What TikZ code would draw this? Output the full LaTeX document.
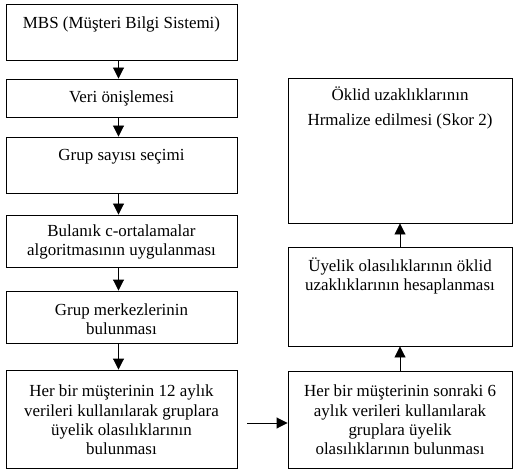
\documentclass[tikz,border=0pt]{standalone}
\usepackage{fontspec}
\setmainfont{Liberation Serif}
\usetikzlibrary{arrows.meta}
\begin{document}
\begin{tikzpicture}[x=1bp,y=-1bp,
 box/.style={draw, line width=0.9bp, rectangle, inner sep=0pt},
 lbox/.style={box, minimum width=231bp},
 rbox/.style={box, minimum width=224bp},
 txt/.style={align=center, font=\rmfamily\fontsize{17}{19.5}\selectfont, inner sep=0pt},
 arr/.style={line width=0.9bp, -{Triangle[length=11bp,width=11bp]}}]
\useasboundingbox (0,0) rectangle (515,471);
% left column
\node[lbox, minimum height=56bp] (b1) at (121.5,32) {};
\node[lbox, minimum height=38bp] (b2) at (121.5,98) {};
\node[lbox, minimum height=56bp] (b3) at (121.5,165) {};
\node[lbox, minimum height=52bp] (b4) at (121.5,241) {};
\node[lbox, minimum height=52bp] (b5) at (121.5,317) {};
\node[lbox, minimum height=98bp] (b6) at (121.5,419) {};
% right column
\node[rbox, minimum height=145bp] (b7) at (400,150.5) {};
\node[rbox, minimum height=99bp] (b8) at (400,296.5) {};
\node[rbox, minimum height=97bp] (b9) at (400,419.5) {};
% texts
\node[txt] (t1) at (121.5,24) {MBS (Müşteri Bilgi Sistemi)};
\node[txt] (t2) at (121.5,98) {Veri önişlemesi};
\node[txt] (t3) at (121.5,157) {Grup sayısı seçimi};
\node[txt] (t4) at (121.5,242) {Bulanık c-ortalamalar\\algoritmasının uygulanması};
\node[txt] (t5) at (121.5,319) {Grup merkezlerinin\\bulunması};
\node[txt] (t6) at (121.5,420) {Her bir müşterinin 12 aylık\\verileri kullanılarak gruplara\\üyelik olasılıklarının\\bulunması};
\node[txt] (t7) at (400,108) {Öklid uzaklıklarının\\[6bp]Hrmalize edilmesi (Skor 2)};
\node[txt] (t8) at (400,276) {Üyelik olasılıklarının öklid\\uzaklıklarının hesaplanması};
\node[txt] (t9) at (400,420) {Her bir müşterinin sonraki 6\\aylık verileri kullanılarak\\gruplara üyelik\\olasılıklarının bulunması};
% connectors
\draw[arr] ([xshift=-3bp]b1.south) -- ([xshift=-3bp]b2.north);
\draw[arr] ([xshift=-3bp]b2.south) -- ([xshift=-3bp]b3.north);
\draw[arr] ([xshift=-3bp]b3.south) -- ([xshift=-3bp]b4.north);
\draw[arr] ([xshift=-3bp]b4.south) -- ([xshift=-3bp]b5.north);
\draw[arr] ([xshift=-3bp]b5.south) -- ([xshift=-3bp]b6.north);
\coordinate (h0) at (247,423);
\draw[arr] (h0) -- (b9.west |- h0);
\draw[arr] (b9) -- (b8);
\draw[arr] (b8) -- (b7);
\end{tikzpicture}
\end{document}
